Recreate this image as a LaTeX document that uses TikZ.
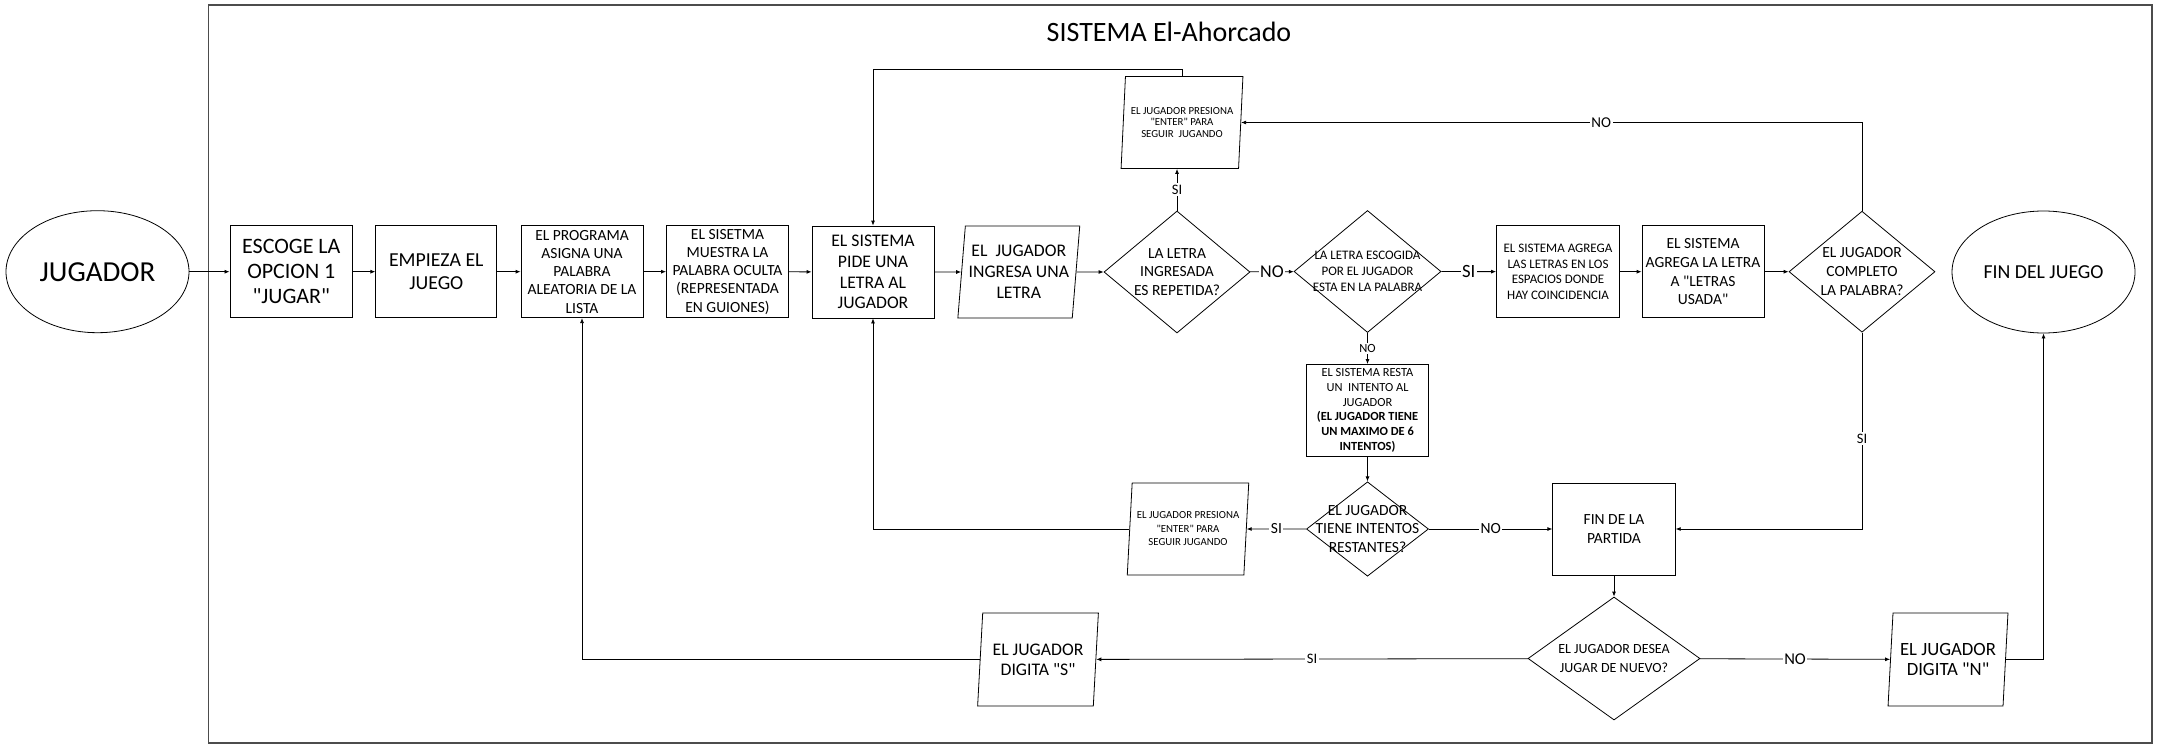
\documentclass[tikz,border=0pt]{standalone}
\usepackage{fontspec}
\setmainfont{Carlito}[Ligatures=TeXOff]
\usetikzlibrary{shapes.geometric,arrows.meta,calc}
\newcommand\fsz[2]{\fontsize{#1}{#2}\selectfont}
\tikzset{
  box/.style={draw, line width=0.8pt, rectangle, minimum width=122pt, minimum height=92pt, inner sep=0pt, align=center},
  io/.style={draw, line width=0.8pt, trapezium, trapezium left angle=82.5, trapezium right angle=97.5,
    trapezium stretches=true, minimum width=122pt, minimum height=92pt, inner sep=0pt, align=center},
  dec/.style={draw, line width=0.8pt, diamond, inner sep=-14pt, align=center},
  term/.style={draw, line width=0.8pt, ellipse, minimum width=183pt, minimum height=122pt, inner sep=0pt, align=center},
  arr/.style={-{Latex[length=5pt,width=4pt]}, line width=0.8pt},
  lab/.style={fill=white, inner sep=1.5pt},
}
\begin{document}
\begin{tikzpicture}[x=1pt,y=-1pt]
\useasboundingbox (0,0) rectangle (2159,749);
\draw[line width=1.5pt, black!70] (208.7,5) rectangle (2152,743);
\node (title) at (1169,32) {\fsz{28}{32}SISTEMA El-Ahorcado};

% main row
\node[term, font=\fsz{29}{34}] (jug) at (97.5,271.7) {JUGADOR};
\node[box, minimum width=122.7pt, font=\fsz{22}{25}] (escoge) at (291.3,271.7) {ESCOGE LA\\OPCION 1\\"JUGAR"};
\node[box, minimum width=121pt, font=\fsz{19.8}{22.5}] (empieza) at (436.3,271.7) {EMPIEZA EL\\JUEGO};
\node[box, font=\fsz{15.5}{18.3}] (programa) at (582,271.7) {EL PROGRAMA\\ASIGNA UNA\\PALABRA\\ALEATORIA DE LA\\LISTA};
\node[box, font=\fsz{15.5}{18.3}] (sisetma) at (727.5,271.7) {EL SISETMA\\MUESTRA LA\\PALABRA OCULTA\\(REPRESENTADA\\EN GUIONES)};
\node[box, font=\fsz{17.7}{20.7}] (pide) at (873,272) {EL SISTEMA\\PIDE UNA\\LETRA AL\\JUGADOR};
\node[io, font=\fsz{17.7}{21}] (ingresa) at (1018.8,272) {EL\ \ JUGADOR\\INGRESA UNA\\LETRA};
\node[dec, minimum width=146pt, minimum height=122pt, font=\fsz{15.5}{18.5}] (repetida) at (1177,272) {LA LETRA\\INGRESADA\\ES REPETIDA?};
\node[dec, minimum width=147pt, minimum height=122pt, font=\fsz{13}{15.8}] (escogida) at (1367.5,271.5) {LA LETRA ESCOGIDA\\POR EL JUGADOR\\ESTA EN LA PALABRA};
\node[box, minimum width=123pt, font=\fsz{13}{15.7}] (agrega1) at (1558,271.7) {EL SISTEMA AGREGA\\LAS LETRAS EN LOS\\ESPACIOS DONDE\\HAY COINCIDENCIA};
\node[box, font=\fsz{15.5}{18.7}] (agrega2) at (1703,271.7) {EL SISTEMA\\AGREGA LA LETRA\\A "LETRAS\\USADA"};
\node[dec, minimum width=146pt, minimum height=121pt, font=\fsz{15.5}{18.7}] (completo) at (1862,271.7) {EL JUGADOR\\COMPLETO\\LA PALABRA?};
\node[term, font=\fsz{19.8}{23}] (finj) at (2043.5,272) {FIN DEL JUEGO};

% upper
\node[io, font=\fsz{10.8}{11.5}] (enter1) at (1182,122.5) {EL JUGADOR PRESIONA\\"ENTER" PARA\\SEGUIR\ \ JUGANDO};

% lower
\node[box, font=\fsz{12.4}{14.7}] (resta) at (1367.5,410.5) {EL SISTEMA RESTA\\UN\ \ INTENTO AL\\JUGADOR\\\textbf{(EL JUGADOR TIENE}\\\textbf{UN MAXIMO DE 6}\\\textbf{INTENTOS)}};
\node[dec, minimum width=122pt, minimum height=92pt, font=\fsz{15.5}{18.3}] (restantes) at (1367.5,529) {EL JUGADOR\\TIENE INTENTOS\\RESTANTES?};
\node[io, minimum width=121.5pt, font=\fsz{10.8}{13.5}] (enter2) at (1188,529) {EL JUGADOR PRESIONA\\"ENTER" PARA\\SEGUIR JUGANDO};
\node[box, minimum width=122.5pt, font=\fsz{15.5}{18.3}] (finp) at (1614,529) {FIN DE LA\\PARTIDA};
\node[dec, minimum width=172pt, minimum height=123pt, font=\fsz{14}{18.3}] (nuevo) at (1614,658.5) {EL JUGADOR DESEA\\JUGAR DE NUEVO?};
\node[io, minimum height=93pt, font=\fsz{17.7}{20}] (digS) at (1038,659.5) {EL JUGADOR\\DIGITA "S"};
\node[io, minimum width=120pt, minimum height=93pt, font=\fsz{18.7}{20.5}] (digN) at (1948,659.5) {EL JUGADOR\\DIGITA "N"};

% connectors main row
\draw[arr] (jug) -- (escoge);
\draw[arr] (escoge) -- (empieza);
\draw[arr] (empieza) -- (programa);
\draw[arr] (programa) -- (sisetma);
\draw[arr] (sisetma) -- (pide);
\draw[arr] (pide) -- (ingresa);
\draw[arr] (ingresa) -- (repetida);
\draw[arr] (repetida) -- node[lab, font=\fsz{18}{20}] {NO} (escogida);
\draw[arr] (escogida) -- node[lab, font=\fsz{18.7}{20}] {SI} (agrega1);
\draw[arr] (agrega1) -- (agrega2);
\draw[arr] (agrega2) -- (completo);

% loops
\draw[arr] (completo.north) |- node[lab, pos=0.71, font=\fsz{15}{17}] {NO} (enter1.east);
\draw[arr] (repetida.north) -- node[lab, font=\fsz{14.5}{16}] {SI} (repetida.north |- enter1.south);
\draw[arr] (enter1.north) -- ++(0,-7) -| (pide.north);
\draw[arr] (escogida.south) -- node[lab, font=\fsz{12.5}{14}] {NO} (resta.north);
\draw[arr] (resta) -- (restantes);
\draw[arr] (restantes) -- node[lab, font=\fsz{15.5}{17}] {SI} (enter2);
\draw[arr] (enter2.west) -| (pide.south);
\draw[arr] (restantes) -- node[lab, font=\fsz{15.5}{17}] {NO} (finp);
\draw[arr] (completo.south) |- node[lab, pos=0.27, font=\fsz{14.5}{16}] {SI} (finp.east);
\draw[arr] (finp) -- (nuevo);
\draw[arr] (nuevo) -- node[lab, font=\fsz{14.5}{16}] {SI} (digS);
\draw[arr] (digS.west) -| (programa.south);
\draw[arr] (nuevo) -- node[lab, font=\fsz{16.5}{18}] {NO} (digN);
\draw[arr] (digN.east) -| (finj.south);
\end{tikzpicture}
\end{document}
